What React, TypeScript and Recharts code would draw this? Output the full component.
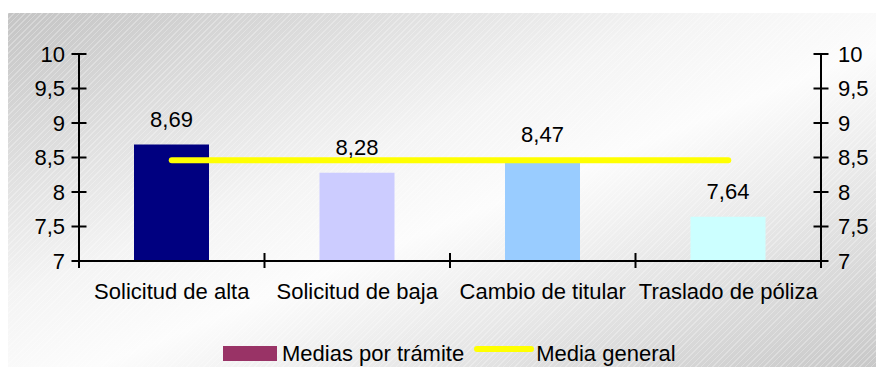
import React from 'react';
import { ComposedChart, Bar, Line, XAxis, YAxis, Cell, LabelList, Legend } from 'recharts';

const categories = ['Solicitud de alta', 'Solicitud de baja', 'Cambio de titular', 'Traslado de póliza'];
const mediasPorTramite = [8.69, 8.28, 8.47, 7.64];
const mediaGeneral = [8.46, 8.46, 8.46, 8.46];
const barColors = ['#000080', '#CCCCFF', '#99CCFF', '#CCFFFF'];
const yTicks = [7, 7.5, 8, 8.5, 9, 9.5, 10];
const seriesNames = ['Medias por trámite', 'Media general'];

const data = categories.map((c, i) => ({ name: c, tramite: mediasPorTramite[i], general: mediaGeneral[i] }));

const FONT = '"Liberation Sans", Arial, sans-serif';
const FS = 22;
const fmt = (v: number) => String(v).replace('.', ',');

const LeftTick = (p: any) => (
  <g>
    <line x1={p.x - 7.5} x2={p.x + 7.5} y1={p.y} y2={p.y} stroke="#000" strokeWidth={2} />
    <text x={p.x - 14} y={p.y} dy="0.35em" textAnchor="end" fontFamily={FONT} fontSize={FS} fill="#000">
      {fmt(p.payload.value)}
    </text>
  </g>
);

const RightTick = (p: any) => (
  <g>
    <line x1={p.x - 7.5} x2={p.x + 7.5} y1={p.y} y2={p.y} stroke="#000" strokeWidth={2} />
    <text x={p.x + 17} y={p.y} dy="0.35em" textAnchor="start" fontFamily={FONT} fontSize={FS} fill="#000">
      {fmt(p.payload.value)}
    </text>
  </g>
);

const XTick = (p: any) => {
  const half = p.payload && typeof p.payload.offset === 'number' && p.payload.offset > 0
    ? p.payload.offset
    : p.width / p.visibleTicksCount / 2;
  const last = p.index === p.visibleTicksCount - 1;
  return (
    <g>
      <line x1={p.x - half} x2={p.x - half} y1={p.y - 8} y2={p.y + 7} stroke="#000" strokeWidth={2} />
      {last && <line x1={p.x + half} x2={p.x + half} y1={p.y - 8} y2={p.y + 7} stroke="#000" strokeWidth={2} />}
      <text x={p.x} y={p.y + 37.5} textAnchor="middle" fontFamily={FONT} fontSize={FS} fill="#000">
        {p.payload.value}
      </text>
    </g>
  );
};

const LegendContent = (props: any) => {
  const items = (props.payload || []).slice().sort((a: any, b: any) => (a.type === 'rect' ? -1 : 1) - (b.type === 'rect' ? -1 : 1));
  return (
    <div style={{ display: 'flex', alignItems: 'flex-start', paddingLeft: 223, fontFamily: FONT, fontSize: FS, color: '#000', lineHeight: 'normal' }}>
      {items.map((it: any, i: number) => (
        <div key={i} style={{ display: 'flex', alignItems: 'flex-start', marginRight: 10 }}>
          {it.type === 'rect' ? (
            <div style={{ width: 54, height: 15, marginTop: 5, marginRight: 5, background: it.color }} />
          ) : (
            <div style={{ width: 60, height: 6, marginTop: 5, marginRight: 2, background: it.color, borderRadius: 3 }} />
          )}
          <span>{it.value}</span>
        </div>
      ))}
    </div>
  );
};

export default function App() {
  return (
    <div style={{ position: 'absolute', left: 0, top: 0, width: 876, height: 367 }}>
      <div
        style={{
          position: 'absolute',
          left: 8,
          top: 13,
          width: 868,
          height: 354,
          background:
            'repeating-linear-gradient(135deg, rgba(255,255,255,0.28) 0px, rgba(255,255,255,0.28) 1px, rgba(255,255,255,0) 1px, rgba(255,255,255,0) 4px), linear-gradient(to bottom right, #c4c4c4 0%, #f4f4f4 40%, #fcfcfc 55%, #c8c8c8 100%)',
        }}
      />
      <div style={{ position: 'absolute', left: 0, top: 0 }}>
        <ComposedChart width={876} height={367} data={data} margin={{ top: 54, right: 0, bottom: 26, left: 0 }}>
          <XAxis
            dataKey="name"
            interval={0}
            tickSize={0}
            tickMargin={0}
            tickLine={false}
            axisLine={{ stroke: '#000', strokeWidth: 2 }}
            tick={<XTick />}
            height={80}
          />
          <YAxis
            yAxisId="left"
            type="number"
            domain={[7, 10]}
            ticks={yTicks}
            interval={0}
            width={79}
            tickSize={0}
            tickMargin={0}
            tickLine={false}
            axisLine={{ stroke: '#000', strokeWidth: 2 }}
            tick={<LeftTick />}
            allowDataOverflow
          />
          <YAxis
            yAxisId="right"
            orientation="right"
            type="number"
            domain={[7, 10]}
            ticks={yTicks}
            interval={0}
            width={55}
            tickSize={0}
            tickMargin={0}
            tickLine={false}
            axisLine={{ stroke: '#000', strokeWidth: 2 }}
            tick={<RightTick />}
            allowDataOverflow
          />
          <Bar yAxisId="left" dataKey="tramite" name={seriesNames[0]} fill="#993366" barSize={75} legendType="rect" isAnimationActive={false}>
            {barColors.map((c, i) => (
              <Cell key={i} fill={c} />
            ))}
            <LabelList
              dataKey="tramite"
              position="top"
              offset={17.5}
              formatter={(v: any) => fmt(v)}
              fill="#000"
              fontSize={FS}
              fontFamily={FONT}
            />
          </Bar>
          <Line
            yAxisId="right"
            dataKey="general"
            name={seriesNames[1]}
            stroke="#FFFF00"
            strokeWidth={6}
            strokeLinecap="round"
            dot={false}
            activeDot={false}
            legendType="line"
            isAnimationActive={false}
          />
          <Legend
            layout="vertical"
            align="center"
            verticalAlign="middle"
            wrapperStyle={{ left: 0, top: 341, width: 876 }}
            content={<LegendContent />}
          />
        </ComposedChart>
      </div>
    </div>
  );
}
